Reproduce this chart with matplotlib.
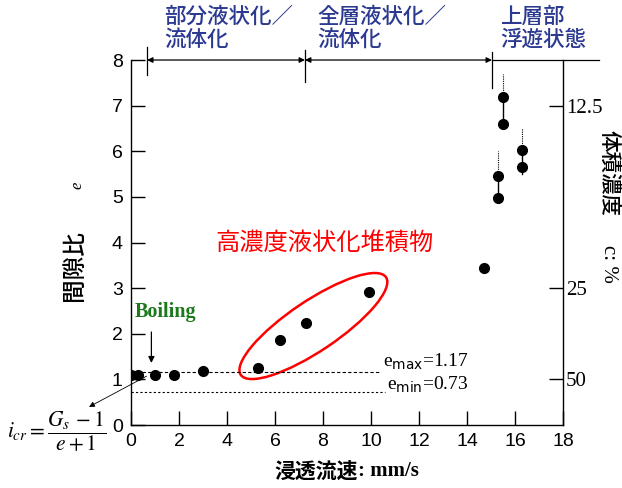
import matplotlib

matplotlib.use("Agg")
import matplotlib.pyplot as plt
import matplotlib.transforms as mtransforms
from matplotlib.patches import Ellipse

# seepage velocity (mm/s) and void ratio e
flow = [0.0, 0.3, 1.0, 1.8, 3.0, 5.3, 6.2, 7.3, 9.9, 14.7,
        15.3, 15.3, 15.5, 15.5, 16.3, 16.3]
void = [1.1, 1.1, 1.1, 1.1, 1.18, 1.26, 1.87, 2.24, 2.92, 3.45,
        5.45, 4.97, 7.2, 6.6, 6.03, 5.66]

# range bars for the upper points: x, low, top point, dotted top
bar_x = [15.3, 15.5, 16.3]
bar_lo = [4.97, 6.6, 5.5]
bar_hi = [5.45, 7.2, 6.03]
bar_dot = [6.0, 7.7, 6.5]

e_max, e_min = 1.17, 0.73
conc_ticks = [12.5, 25, 50]          # volume concentration c (%)
stage_bounds = [0.67, 7.25, 15.04]   # stage boundaries on x
stage_labels = ["部分液状化／\n流体化", "全層液状化／\n流体化", "上層部\n浮遊状態"]

CJK = ["Noto Sans CJK JP", "DejaVu Sans"]
SERIF = "Liberation Serif"
SANS = "Liberation Sans"
BLUE = "#2b3990"

fig = plt.figure(figsize=(6.22, 4.88), dpi=100)
ax = fig.add_axes([0.2106, 0.129, 0.6945, 0.748])
ax.set_xlim(0, 18)
ax.set_ylim(0, 8)

ax.plot(flow, void, "o", color="black", ms=7, zorder=5)
for x, lo, hi, dot in zip(bar_x, bar_lo, bar_hi, bar_dot):
    ax.plot([x, x], [lo, hi], color="black", lw=1)
    ax.plot([x, x], [hi, dot], color="black", lw=0.8, ls=(0, (1, 1)))

ax.plot([0, 10.4], [e_max, e_max], color="black", lw=0.8, ls=(0, (3, 2)))
ax.plot([0, 10.6], [e_min, e_min], color="black", lw=0.8, ls=(0, (2, 2)))
ax.text(10.5, e_max + 0.0, r"e$_{\rm max}$=1.17", family=SERIF, fontsize=14,
        va="bottom", ha="left")
ax.text(10.65, e_min - 0.08, r"e$_{\rm min}$=0.73", family=SERIF, fontsize=14,
        va="bottom", ha="left")

# red ellipse around the high-concentration deposits
ell_trans = fig.dpi_scale_trans + mtransforms.ScaledTranslation(7.6, 2.17, ax.transData)
ax.add_patch(Ellipse((0, 0), 1.75, 0.50, angle=33.9, fill=False, ec="red", lw=1.8,
                     transform=ell_trans))
ax.text(8.05, 4.0, "高濃度液状化堆積物", color="red", family=CJK, fontsize=17.5,
        ha="center", va="center")

# boiling annotation
ax.text(0.15, 2.48, "Boiling", color="#1c7a1c", family=SERIF, fontsize=14.5,
        fontweight="bold", ha="left", va="center")
ax.annotate("", xy=(0.85, 1.3), xytext=(0.85, 2.1),
            arrowprops=dict(arrowstyle="-|>", color="black", lw=0.9,
                            mutation_scale=9))
ax.annotate("", xy=(-1.85, 0.37), xytext=(0.75, 1.1),
            arrowprops=dict(arrowstyle="-|>", color="black", lw=0.6,
                            mutation_scale=8), annotation_clip=False)
fig.text(0.012, 0.115, r"$i_{cr}=\dfrac{G_s\,-1}{e+1}$", fontsize=15.5,
         family=SERIF, ha="left", va="center", math_fontfamily="stix")

# stage markers along the top
top = 8.0
for x0, x1 in zip(stage_bounds[:-1], stage_bounds[1:]):
    ax.annotate("", xy=(x1, top), xytext=(x0, top),
                arrowprops=dict(arrowstyle="<|-|>", color="black", lw=0.9,
                                mutation_scale=8, shrinkA=0, shrinkB=0),
                annotation_clip=False)
ax.plot([stage_bounds[-1], 19.5], [top, top], color="black", lw=0.9, clip_on=False)
for x, lo, hi in zip(stage_bounds, [7.68, 7.52, 7.39], [8.29, 8.22, 8.18]):
    ax.plot([x, x], [lo, hi], color="black", lw=0.9, clip_on=False)
for x, lab in zip([1.4, 7.75, 15.4], stage_labels):
    ax.text(x, 8.2, lab, color=BLUE, family=CJK, fontsize=15.5, ha="left",
            va="bottom", linespacing=1.05, fontweight="medium")

# axes styling
for side in ("top", "right"):
    ax.spines[side].set_visible(False)
ax.spines["left"].set_linewidth(1)
ax.spines["bottom"].set_linewidth(1)
ax.set_xticks(range(0, 19, 2))
ax.set_yticks(range(0, 9))
ax.tick_params(direction="in", length=10, width=1, labelsize=14, pad=6)
for lab in ax.get_xticklabels() + ax.get_yticklabels():
    lab.set_family(SANS)

ax2 = ax.twinx()
ax2.set_ylim(0, 8)
ax2.set_yticks([100 / c - 1 for c in conc_ticks])
ax2.set_yticklabels([f"{c:g}" for c in conc_ticks], family=SERIF, fontsize=15)
ax2.tick_params(direction="in", length=10, width=1, pad=2)
for side in ("top", "left", "bottom"):
    ax2.spines[side].set_visible(False)
ax2.spines["right"].set_linewidth(1)

# axis labels
fig.text(0.575, 0.035, "浸透流速", family=CJK, fontsize=15, fontweight="bold",
         ha="right", va="center")
fig.text(0.575, 0.035, ": mm/s", family=SERIF, fontsize=15, fontweight="bold",
         ha="left", va="center")
fig.text(0.12, 0.455, "間隙比", family=CJK, fontsize=17, rotation=90,
         ha="center", va="center", fontweight="medium")
fig.text(0.124, 0.62, "e", family=SERIF, fontsize=12, style="italic", rotation=90,
         ha="center", va="center")
fig.text(0.978, 0.645, "体積濃度", family=CJK, fontsize=15.5, rotation=-90,
         ha="center", va="center", fontweight="medium")
fig.text(0.978, 0.46, "c: %", family=SERIF, fontsize=15, rotation=-90,
         ha="center", va="center")

fig.savefig("out.png", dpi=100)
